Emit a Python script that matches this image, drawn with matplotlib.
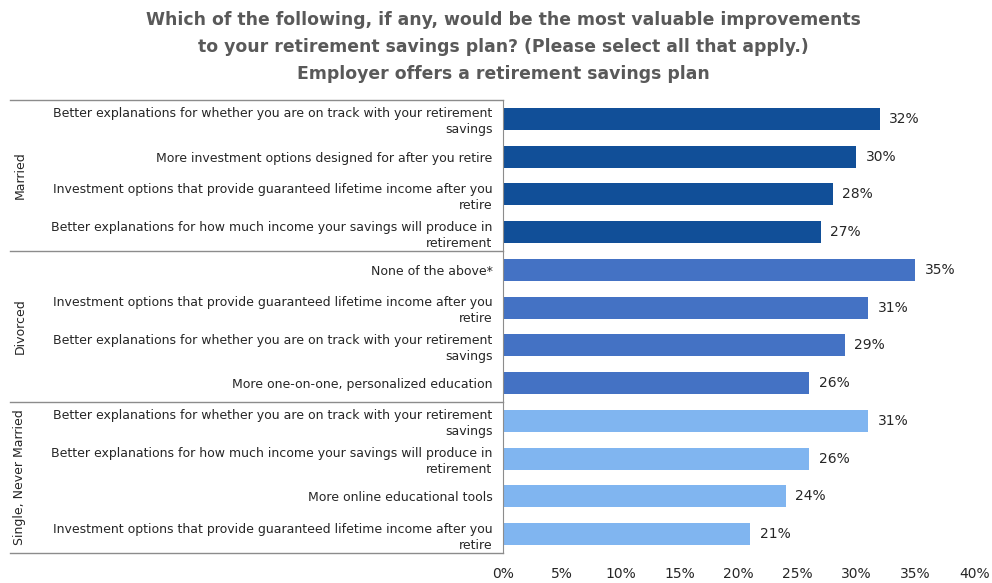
import matplotlib.pyplot as plt
import matplotlib

# survey data: three groups, four answers each
groups = ["Married", "Divorced", "Single, Never Married"]

married_labels = ["Better explanations for whether you are on track with your retirement\nsavings",
                  "More investment options designed for after you retire",
                  "Investment options that provide guaranteed lifetime income after you\nretire",
                  "Better explanations for how much income your savings will produce in\nretirement"]
married_vals = [32, 30, 28, 27]

divorced_labels = ["None of the above*",
                   "Investment options that provide guaranteed lifetime income after you\nretire",
                   "Better explanations for whether you are on track with your retirement\nsavings",
                   "More one-on-one, personalized education"]
divorced_vals = [35, 31, 29, 26]

single_labels = ["Better explanations for whether you are on track with your retirement\nsavings",
                 "Better explanations for how much income your savings will produce in\nretirement",
                 "More online educational tools",
                 "Investment options that provide guaranteed lifetime income after you\nretire"]
single_vals = [31, 26, 24, 21]

xticks = [0, 5, 10, 15, 20, 25, 30, 35, 40]
colors = ['#114F98', '#4472C4', '#80B5F0']

matplotlib.rcParams['font.family'] = 'DejaVu Sans'
text_col = '#262626'
line_col = '#8C8C8C'

fig = plt.figure(figsize=(9.92, 5.83), dpi=100)
ax = fig.add_axes([0.507, 0.0515, 0.475, 0.777])

all_labels = married_labels + divorced_labels + single_labels
all_vals = married_vals + divorced_vals + single_vals
bar_cols = [colors[0]] * 4 + [colors[1]] * 4 + [colors[2]] * 4
ypos = list(range(len(all_vals)))

ax.barh(ypos, all_vals, height=0.58, color=bar_cols)
for y, v in zip(ypos, all_vals):
    ax.text(v + 0.8, y, str(v) + '%', va='center', ha='left', fontsize=10, color=text_col)

ax.set_ylim(len(all_vals) - 0.5, -0.5)
ax.set_xlim(0, 40)
ax.set_xticks(xticks)
ax.set_xticklabels([str(t) + '%' for t in xticks], fontsize=10, color=text_col)
ax.set_yticks(ypos)
ax.set_yticklabels(all_labels, fontsize=9.0, color=text_col, linespacing=1.3)
ax.tick_params(axis='both', length=0)
ax.tick_params(axis='y', pad=7.5)
ax.tick_params(axis='x', pad=10)

for s in ['top', 'right', 'bottom']:
    ax.spines[s].set_visible(False)
ax.spines['left'].set_color(line_col)

# group separators and group names in the label column
for b in [-0.5, 3.5, 7.5, 11.5]:
    ax.plot([-1.047 * 40, 0], [b, b], color=line_col, lw=1, clip_on=False,
            transform=ax.transData)
for i, g in enumerate(groups):
    ax.text(-1.025 * 40, 4 * i + 1.5, g, rotation=90, ha='center', va='center',
            fontsize=9, color=text_col, clip_on=False)

fig.text(0.507, 0.919,
         "Which of the following, if any, would be the most valuable improvements\n"
         "to your retirement savings plan? (Please select all that apply.)\n"
         "Employer offers a retirement savings plan",
         ha='center', va='center', fontsize=12.4, fontweight='bold', color='#595959',
         linespacing=1.65)

plt.savefig('out.png', dpi=100)
